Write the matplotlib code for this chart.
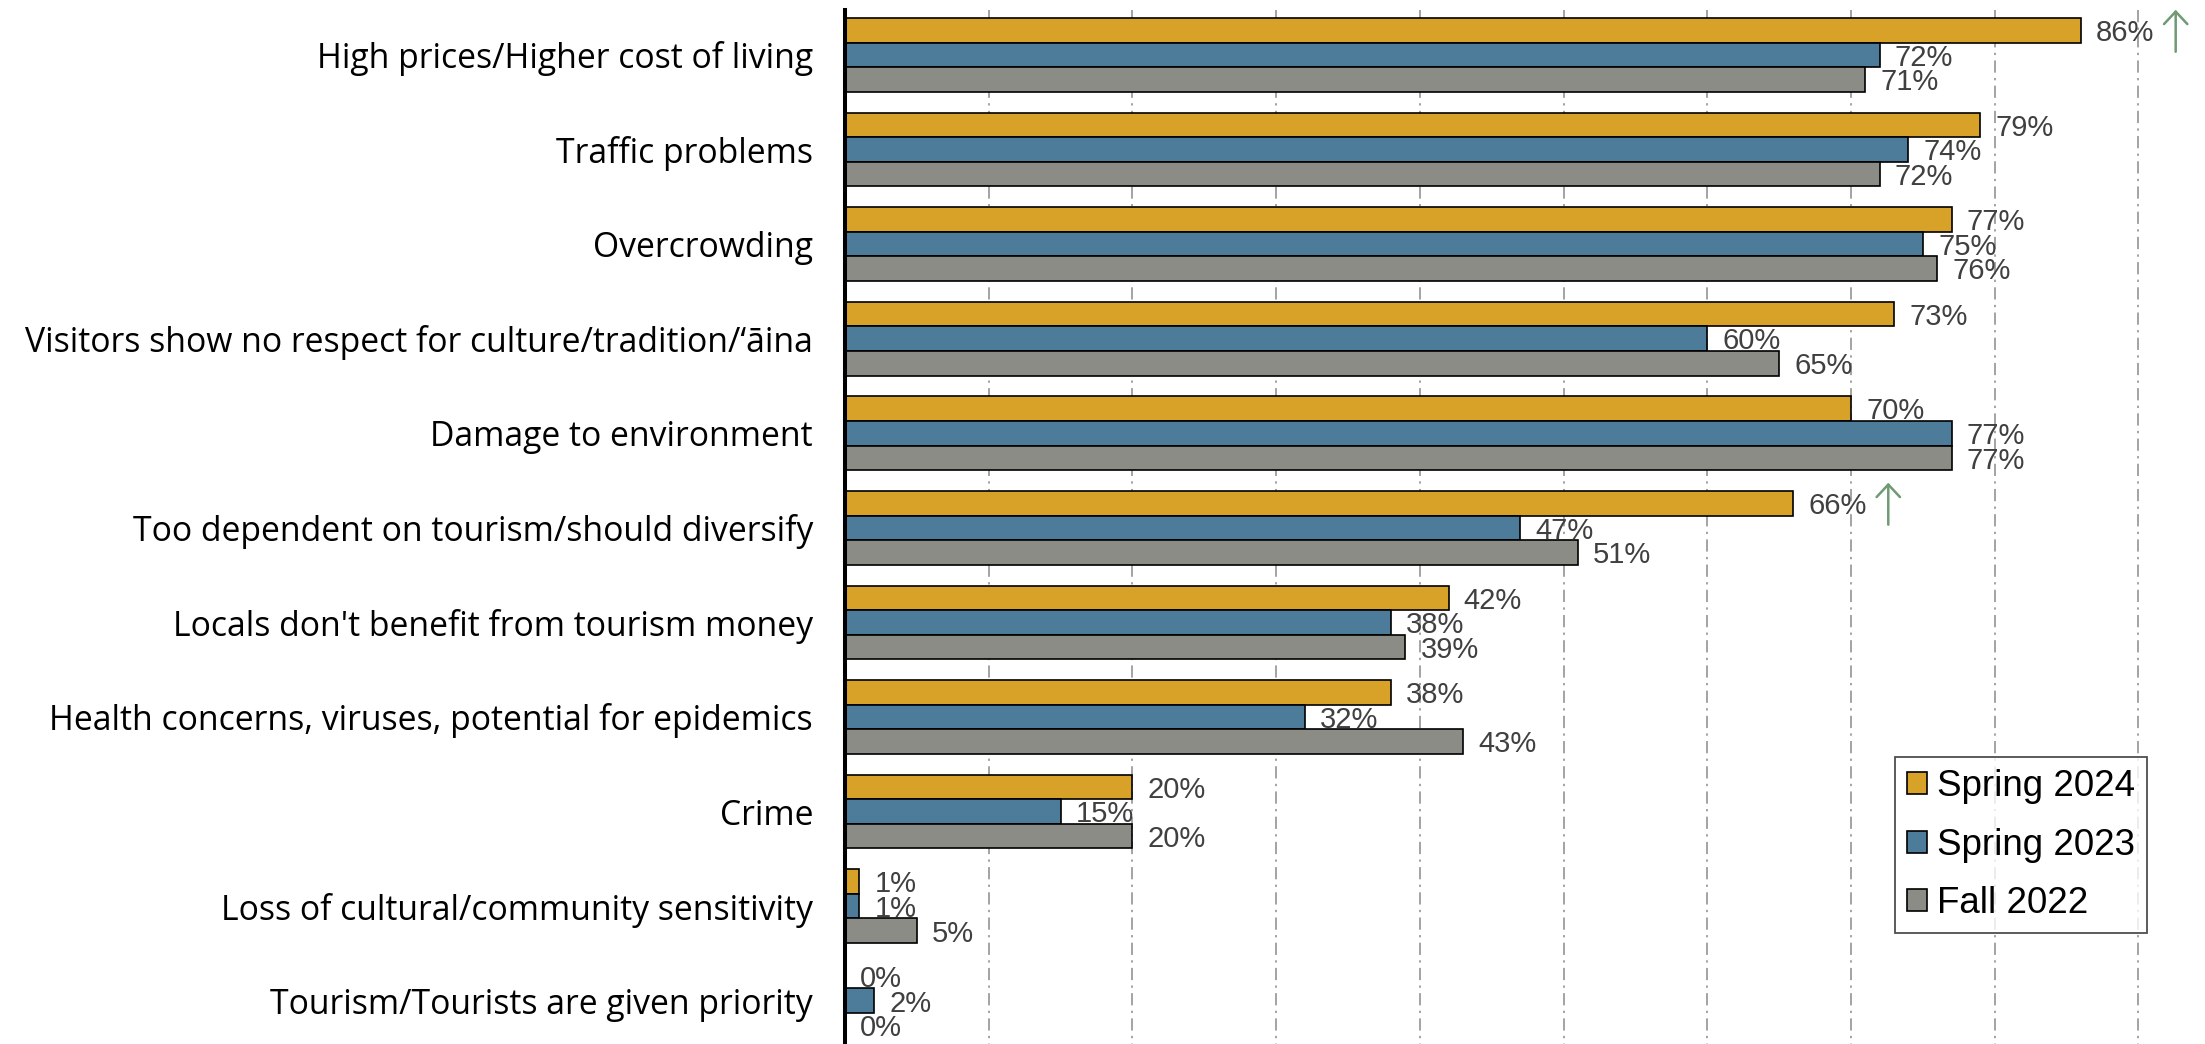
import matplotlib
matplotlib.use("Agg")
import matplotlib.pyplot as plt
import numpy as np

plt.rcParams['font.family'] = ['Liberation Sans', 'DejaVu Sans']

# Perceived negative impacts of tourism, % of residents citing each
categories = [
    "High prices/Higher cost of living",
    "Traffic problems",
    "Overcrowding",
    "Visitors show no respect for culture/tradition/\u2018\u0101ina",
    "Damage to environment",
    "Too dependent on tourism/should diversify",
    "Locals don't benefit from tourism money",
    "Health concerns, viruses, potential for epidemics",
    "Crime",
    "Loss of cultural/community sensitivity",
    "Tourism/Tourists are given priority",
]
series_names = ["Spring 2024", "Spring 2023", "Fall 2022"]
spring_2024 = [86, 79, 77, 73, 70, 66, 42, 38, 20, 1, 0]
spring_2023 = [72, 74, 75, 60, 77, 47, 38, 32, 15, 1, 2]
fall_2022 = [71, 72, 76, 65, 77, 51, 39, 43, 20, 5, 0]
# categories where the latest wave rose significantly
significant_up_2024 = [0, 5]

colors = ["#D7A227", "#4D7B9A", "#8C8C86"]
label_color = "#404040"
arrow_color = "#6F9A73"

fig = plt.figure(figsize=(22.05, 10.44), dpi=100)
ax = fig.add_axes([845 / 2205, 0.0, 1 - 845 / 2205, 1.0])

y = np.arange(len(categories))
bar_h = 0.26
series = [spring_2024, spring_2023, fall_2022]
offsets = [-bar_h, 0.0, bar_h]

ax.set_xlim(0, 94.64)
ax.set_ylim(10.457, -0.58)

# dash-dot vertical gridlines behind the bars
grid_top, grid_bottom = -0.47, 10.46
ax.vlines(np.arange(10, 100, 10), grid_top, grid_bottom, colors="#8A8A8A",
          linewidth=1.1, linestyles=[(0, (8, 3.5, 1.5, 3.5))], zorder=0)

for vals, off, col, name in zip(series, offsets, colors, series_names):
    ax.barh(y + off, vals, height=bar_h, color=col, edgecolor="black",
            linewidth=1.2, label=name, zorder=2)
    for yi, v in zip(y, vals):
        ax.annotate(f"{v}%", xy=(v, yi + off), xytext=(11, -2),
                    textcoords="offset points", va="center", ha="left",
                    fontsize=21, color=label_color, zorder=3)

# significance arrows next to the Spring 2024 labels
for i in significant_up_2024:
    v = spring_2024[i]
    yc = y[i] + offsets[0]
    ax.annotate("", xy=(v + 6.6, yc - 0.217), xytext=(v + 6.6, yc + 0.227),
                arrowprops=dict(arrowstyle="->,head_length=0.45,head_width=0.42",
                                color=arrow_color, lw=1.8, shrinkA=0, shrinkB=0,
                                mutation_scale=20),
                zorder=3)

ax.set_yticks(y)
ax.set_yticklabels(categories, fontsize=24.3, color="black",
                   family=["Open Sans", "DejaVu Sans"])
ax.tick_params(axis="y", length=0, pad=23)
ax.set_xticks([])

for s in ["top", "right", "bottom"]:
    ax.spines[s].set_visible(False)
ax.spines["left"].set_linewidth(2.9)
ax.spines["left"].set_color("black")
ax.spines["left"].set_bounds(grid_bottom, grid_top)
ax.spines["left"].set_zorder(4)
ax.patch.set_alpha(0)

leg = ax.legend(loc="upper left", bbox_to_anchor=(1895 / 2205, 1 - 757 / 1044),
                bbox_transform=fig.transFigure, fontsize=26.5, frameon=True,
                fancybox=False, edgecolor="#222222", borderpad=0.33,
                handlelength=0.55, handleheight=0.55, handletextpad=0.25,
                labelspacing=0.64, borderaxespad=0)
leg.get_frame().set_linewidth(1.3)

fig.savefig("out.png", dpi=100, facecolor="white")
